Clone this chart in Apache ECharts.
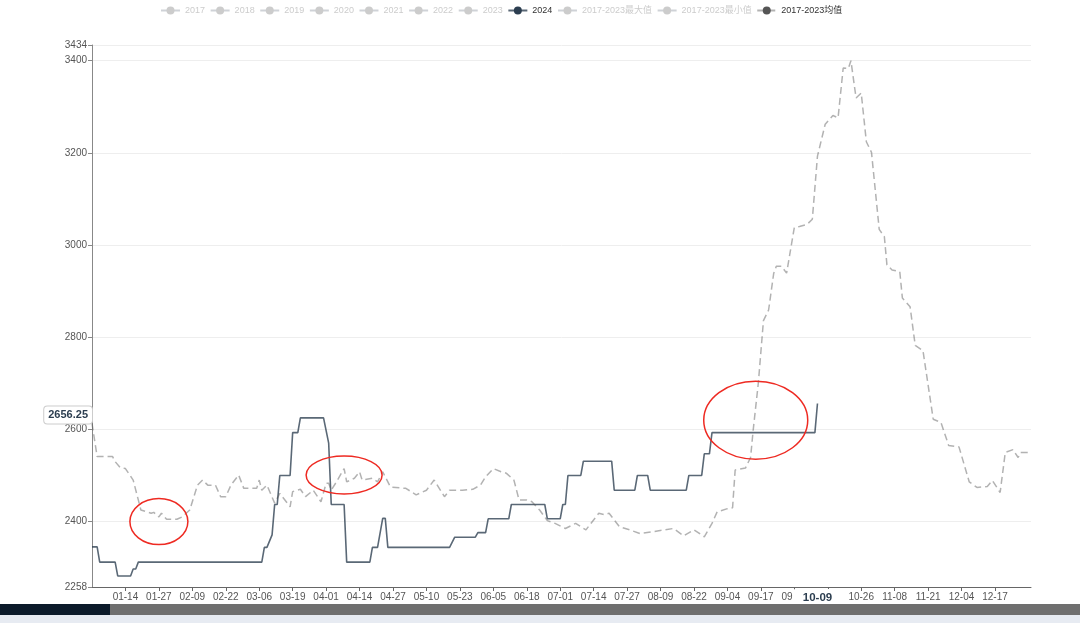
<!DOCTYPE html>
<html>
<head>
<meta charset="utf-8">
<script src="https://cdn.jsdelivr.net/npm/echarts@6/dist/echarts.min.js"></script>
<style>
  html, body { margin: 0; padding: 0; background: #fff; }
  #chart { width: 1080px; height: 623px; }
</style>
</head>
<body>
<div id="chart"></div>
<script>
// ---- Legend / series names ----
const legendNames = ['2017', '2018', '2019', '2020', '2021', '2022', '2023', '2024',
  '2017-2023最大值', '2017-2023最小值', '2017-2023均值'];
const hiddenNames = ['2017', '2018', '2019', '2020', '2021', '2022', '2023',
  '2017-2023最大值', '2017-2023最小值'];

// ---- 2024 series (breakpoints, MM-DD) ----
const dates2024 = ['01-01','01-03','01-04','01-10','01-11','01-16','01-17','01-18','01-19',
  '03-07','03-08','03-09','03-11','03-12','03-13','03-14','03-18','03-19','03-21','03-22',
  '03-31','04-02','04-03','04-08','04-09','04-18','04-19','04-21','04-23','04-24','04-25',
  '05-19','05-21','05-29','05-30','06-02','06-03','06-11','06-12','06-25','06-26',
  '07-01','07-02','07-03','07-04','07-09','07-10','07-21','07-22','07-30','07-31',
  '08-04','08-05','08-19','08-20','08-25','08-26','08-28','08-29','10-08','10-09'];
const values2024 = [2345,2345,2312,2312,2282,2282,2297,2297,2312,
  2312,2344,2344,2371,2437,2437,2500,2500,2593,2593,2625,
  2625,2570,2437,2437,2312,2312,2344,2344,2407,2407,2344,
  2344,2366,2366,2376,2376,2406,2406,2437,2437,2406,
  2406,2437,2437,2500,2500,2531,2531,2468,2468,2500,
  2500,2468,2468,2500,2500,2547,2547,2593,2593,2656.25];

// ---- 2017-2023 average series ----
const datesAvg = ['01-01','01-03','01-09','01-10','01-12','01-14','01-17','01-19','01-20','01-24',
  '01-25','01-27','01-28','01-30','02-03','02-05','02-08','02-11','02-13','02-15',
  '02-18','02-20','02-22','02-24','02-27','02-29','03-05','03-06','03-07','03-09',
  '03-12','03-14','03-18','03-19','03-22','03-24','03-27','03-30','04-01','04-02',
  '04-03','04-05','04-08','04-09','04-12','04-14','04-15','04-19','04-21','04-23',
  '04-26','05-02','05-06','05-10','05-13','05-17','05-19','05-24','05-28','05-31',
  '06-02','06-05','06-08','06-10','06-13','06-15','06-18','06-20','06-23','06-26',
  '06-29','07-03','07-07','07-11','07-16','07-18','07-20','07-24','07-28','08-01',
  '08-06','08-14','08-18','08-22','08-26','08-29','08-31','09-04','09-06','09-07',
  '09-11','09-13','09-14','09-16','09-18','09-20','09-22','09-23','09-25','09-27',
  '09-30','10-02','10-05','10-07','10-09','10-12','10-15','10-17','10-19','10-21',
  '10-22','10-24','10-26','10-28','10-30','11-02','11-04','11-05','11-07','11-10',
  '11-11','11-14','11-16','11-19','11-23','11-26','11-29','12-03','12-07','12-10',
  '12-14','12-16','12-19','12-21','12-24','12-26','12-27','12-31'];
const valuesAvg = [2613,2541,2541,2530,2517,2515,2490,2447,2425,2418,
  2420,2410,2418,2405,2405,2410,2425,2479,2490,2479,
  2479,2454,2454,2479,2501,2472,2472,2490,2468,2479,
  2440,2461,2432,2465,2470,2454,2468,2443,2483,2483,
  2468,2486,2515,2486,2494,2508,2490,2494,2486,2508,
  2475,2472,2458,2468,2490,2454,2468,2468,2470,2479,
  2497,2515,2508,2505,2490,2447,2447,2443,2425,2402,
  2396,2385,2396,2382,2418,2415,2418,2389,2382,2374,
  2378,2385,2369,2382,2367,2396,2421,2428,2430,2512,
  2516,2539,2598,2700,2836,2859,2939,2954,2954,2939,
  3038,3040,3045,3056,3193,3262,3281,3276,3384,3383,
  3400,3319,3330,3224,3201,3034,3018,2957,2946,2942,
  2885,2866,2782,2771,2622,2615,2565,2562,2486,2474,
  2476,2489,2463,2550,2556,2539,2550,2550];

// ---- Axis settings ----
const yMin = 2258;
const yMax = 3434;
const pointerDate = '10-09';
const yPointerValue = 2631;

// ---- Hand-drawn annotation circles (anchored to data coords) ----
const annoDates = ['01-27', '04-08', '09-15'];
const annoValues = [2400, 2501, 2620];
const annoRx = [29, 38, 52];
const annoRy = [23, 19, 39];

// category labels: every day of 2024 (leap year)
const monthDays = [31, 29, 31, 30, 31, 30, 31, 31, 30, 31, 30, 31];
const categories = [];
monthDays.forEach((n, m) => {
  for (let d = 1; d <= n; d++) {
    categories.push(String(m + 1).padStart(2, '0') + '-' + String(d).padStart(2, '0'));
  }
});

const FONT = "'Liberation Sans','Noto Sans CJK SC',sans-serif";
const labelShown = (i) => i > 0 && i < 360 && i % 13 === 0;

const selected = {};
hiddenNames.forEach(n => { selected[n] = false; });

const palette = ['#5470c6','#91cc75','#fac858','#ee6666','#73c0de','#3ba272','#fc8452'];
const series = [];
legendNames.forEach((name, idx) => {
  if (name === '2024') {
    series.push({
      name, type: 'line', symbol: 'circle', showSymbol: false,
      color: '#2c3e50',
      lineStyle: { width: 1.6, opacity: 0.78 },
      data: dates2024.map((d, i) => [d, values2024[i]])
    });
  } else if (name === '2017-2023均值') {
    series.push({
      name, type: 'line', symbol: 'circle', showSymbol: false,
      color: '#555555',
      lineStyle: { width: 1.5, opacity: 0.45, type: [7, 4] },
      data: datesAvg.map((d, i) => [d, valuesAvg[i]])
    });
  } else {
    series.push({
      name, type: 'line', symbol: 'circle', showSymbol: false,
      color: palette[idx % palette.length],
      data: []
    });
  }
});

const chart = echarts.init(document.getElementById('chart'), null, { renderer: 'canvas' });
chart.setOption({
  animation: false,
  backgroundColor: '#fff',
  legend: {
    data: legendNames,
    selected,
    left: 155,
    top: 1,
    itemWidth: 19,
    itemHeight: 10,
    itemGap: 4.6,
    inactiveColor: '#ccc',
    textStyle: { fontSize: 9, fontFamily: FONT, color: '#333' }
  },
  grid: { left: 92, right: 49, top: 45, bottom: 36, containLabel: false },
  xAxis: {
    type: 'category',
    data: categories,
    boundaryGap: false,
    axisLine: { lineStyle: { color: '#666' } },
    axisTick: { interval: labelShown, length: 4, lineStyle: { color: '#666' } },
    axisLabel: { interval: labelShown, fontSize: 10, fontFamily: FONT, color: '#555', margin: 5 },
    splitLine: { show: false },
    axisPointer: {
      show: true, status: 'show', type: 'line',
      value: categories.indexOf(pointerDate),
      lineStyle: { opacity: 0 },
      triggerTooltip: false,
      label: {
        show: true, fontSize: 11.5, fontWeight: 'bold', fontFamily: FONT,
        color: '#2c3e50', backgroundColor: '#fff', padding: [3, 10, 3, 10], margin: 2,
        borderWidth: 0, shadowBlur: 0
      }
    }
  },
  yAxis: {
    type: 'value',
    min: yMin,
    max: yMax,
    splitNumber: 5,
    axisLine: { show: true, lineStyle: { color: '#888' } },
    axisTick: { show: true, length: 4, lineStyle: { color: '#888' } },
    axisLabel: { fontSize: 10, fontFamily: FONT, color: '#555', margin: 5, formatter: (v) => String(v) },
    splitLine: { lineStyle: { color: '#eee' } },
    axisPointer: {
      show: true, status: 'show', type: 'line',
      value: yPointerValue,
      lineStyle: { opacity: 0 },
      triggerTooltip: false,
      label: {
        show: true, fontSize: 11, fontWeight: 'bold', fontFamily: FONT,
        color: '#2c3e50', backgroundColor: '#fff', borderColor: '#ccc', borderWidth: 1,
        padding: [3, 4, 3, 4], margin: 0, shadowBlur: 0,
        formatter: () => String(values2024[values2024.length - 1])
      }
    }
  },
  series
});

// annotations + bottom strip (part of the screenshot)
const graphics = [];
annoDates.forEach((d, i) => {
  const p = chart.convertToPixel({ gridIndex: 0 }, [categories.indexOf(d), annoValues[i]]);
  graphics.push({
    type: 'ellipse', z: 100, silent: true,
    shape: { cx: p[0], cy: p[1], rx: annoRx[i], ry: annoRy[i] },
    style: { fill: 'none', stroke: '#ee2a22', lineWidth: 1.5 }
  });
});
graphics.push(
  { type: 'rect', z: 100, silent: true, shape: { x: 0, y: 604, width: 1080, height: 11 }, style: { fill: '#6f6f6f' } },
  { type: 'rect', z: 101, silent: true, shape: { x: 0, y: 604, width: 110, height: 11 }, style: { fill: '#0c1a2a' } },
  { type: 'rect', z: 100, silent: true, shape: { x: 0, y: 615, width: 1080, height: 8 }, style: { fill: '#e7ebf2' } }
);
chart.setOption({ graphic: graphics });
</script>
</body>
</html>
